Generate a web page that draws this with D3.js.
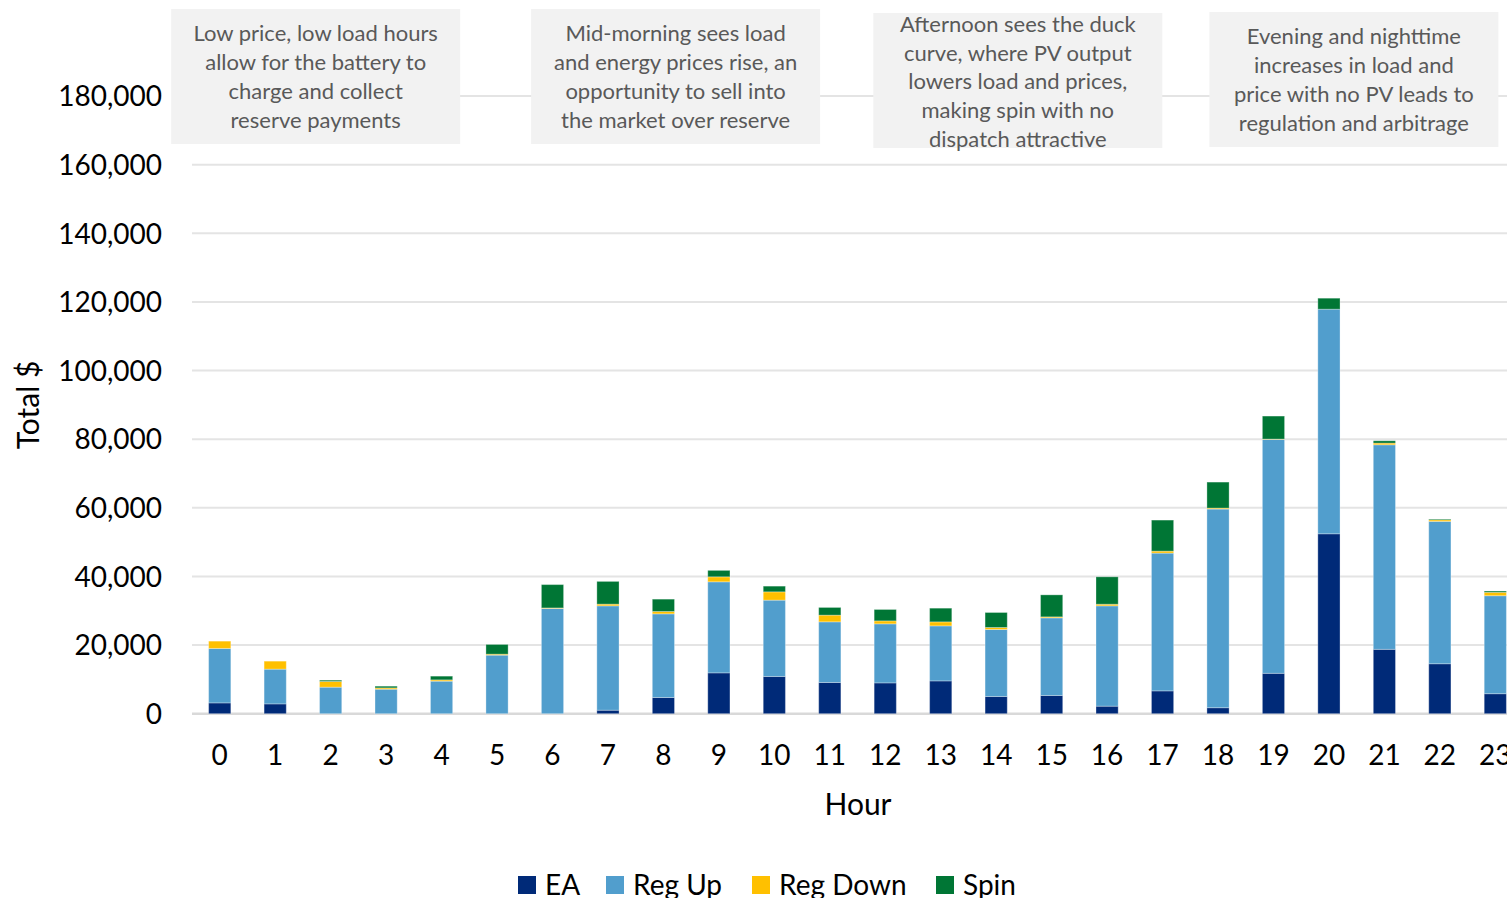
<!DOCTYPE html>
<html>
<head>
<meta charset="utf-8">
<script src="https://cdn.jsdelivr.net/npm/d3@7"></script>
<style>
  html, body { margin: 0; padding: 0; background: #fff; overflow: hidden; }
  svg { display: block; font-family: Lato, "Open Sans", sans-serif; }
</style>
</head>
<body>
<svg id="chart" width="1507" height="898"></svg>
<script>
// Hourly revenue by market product ($)
const hours = ["0","1","2","3","4","5","6","7","8","9","10","11","12","13","14","15","16","17","18","19","20","21","22","23"];
const seriesNames = ["EA", "Reg Up", "Reg Down", "Spin"];
const ea      = [3150, 2860, 0, 0, 0, 0, 0, 1020, 4720, 11900, 10850, 9100, 8980, 9560, 5010, 5310, 2190, 6650, 1750, 11770, 52430, 18760, 14560, 5830];
const regUp   = [15860, 10120, 7730, 7140, 9480, 17060, 30670, 30410, 24370, 26530, 22240, 17670, 17200, 16030, 19530, 22620, 29240, 40150, 57880, 68160, 65450, 59600, 41480, 28550];
const regDown = [2130, 2330, 1660, 380, 380, 290, 150, 500, 700, 1460, 2420, 1950, 870, 1170, 580, 290, 470, 580, 290, 100, 0, 500, 470, 990];
const spin    = [0, 0, 380, 500, 1080, 2830, 6800, 6620, 3590, 1870, 1660, 2240, 3320, 3990, 4370, 6410, 7990, 9040, 7570, 6700, 3200, 670, 200, 380];
const colors  = ["#002A78", "#519ECD", "#FFC000", "#007635"];
const yTicks  = [0, 20000, 40000, 60000, 80000, 100000, 120000, 140000, 160000, 180000];

// Call-out boxes, centred on a fractional hour position
const notes = [
  { hour: 1.73,  top: 9,  lines: ["Low price, low load hours", "allow for the battery to", "charge and collect", "reserve payments"] },
  { hour: 8.22,  top: 9,  lines: ["Mid-morning sees load", "and energy prices rise, an", "opportunity to sell into", "the market over reserve"] },
  { hour: 14.39, top: 13, lines: ["Afternoon sees the duck", "curve, where PV output", "lowers load and prices,", "making spin with no", "dispatch attractive"] },
  { hour: 20.45, top: 12, lines: ["Evening and nighttime", "increases in load and", "price with no PV leads to", "regulation and arbitrage"] }
];

const rows = hours.map((h, i) => ({ hour: h, "EA": ea[i], "Reg Up": regUp[i], "Reg Down": regDown[i], "Spin": spin[i] }));
const stacked = d3.stack().keys(seriesNames)(rows);

const svg = d3.select("#chart");
const plotLeft = 192, step = 55.46;
const x = d3.scaleBand().domain(hours).range([plotLeft, plotLeft + step * hours.length])
  .paddingInner(0.6).paddingOuter(0.3);
const y = d3.scaleLinear().domain([0, 180000]).range([713.7, 96]);

// gridlines
svg.append("g").selectAll("line").data(yTicks).join("line")
  .attr("x1", plotLeft).attr("x2", 1507)
  .attr("y1", d => y(d)).attr("y2", d => y(d))
  .attr("stroke", d => d === 0 ? "#D9D9D9" : "#E4E4E4")
  .attr("stroke-width", d => d === 0 ? 2.5 : 2);

// y axis labels
const yAxis = svg.append("g").attr("transform", `translate(162,0)`)
  .call(d3.axisLeft(y).tickValues(yTicks).tickFormat(d3.format(",")).tickSize(0).tickPadding(0));
yAxis.select(".domain").remove();
yAxis.selectAll("text").attr("font-size", 28).attr("fill", "#000").attr("font-family", "Lato, sans-serif").attr("dy", "0.35em");

// x axis labels
const xAxis = svg.append("g").attr("transform", `translate(0,748)`)
  .call(d3.axisBottom(x).tickSize(0).tickPadding(0));
xAxis.select(".domain").remove();
xAxis.selectAll("text").attr("font-size", 28).attr("fill", "#000").attr("font-family", "Lato, sans-serif").attr("dy", "0.6em");

// stacked bars
svg.append("g").selectAll("g").data(stacked).join("g")
  .attr("fill", (d, i) => colors[i])
  .selectAll("rect").data(d => d).join("rect")
  .attr("x", d => x(d.data.hour))
  .attr("width", x.bandwidth())
  .attr("y", d => y(d[1]))
  .attr("height", d => Math.max(0, y(d[0]) - y(d[1])))
  .attr("stroke", "rgba(255,255,255,0.3)")
  .attr("stroke-width", 1);

// axis titles
svg.append("text").attr("x", 858).attr("y", 804).attr("dy", "0.35em")
  .attr("text-anchor", "middle").attr("font-size", 30).attr("fill", "#000").text("Hour");
svg.append("text").attr("transform", "translate(28,405) rotate(-90)").attr("dy", "0.35em")
  .attr("text-anchor", "middle").attr("font-size", 30).attr("fill", "#000").text("Total $");

// annotation boxes
const noteW = 289, noteH = 135, lineH = 28.8;
const ng = svg.append("g").selectAll("g").data(notes).join("g")
  .attr("transform", d => `translate(${x(String(Math.floor(d.hour))) + x.bandwidth() / 2 + (d.hour % 1) * step - noteW / 2},${d.top})`);
ng.append("rect").attr("width", noteW).attr("height", noteH).attr("fill", "#F2F2F2");
ng.each(function (d) {
  const g = d3.select(this);
  const first = d.lines.length === 5 ? 11 : 24.5;
  g.selectAll("text").data(d.lines).join("text")
    .attr("x", noteW / 2)
    .attr("y", (t, i) => first + i * lineH)
    .attr("dy", "0.35em")
    .attr("text-anchor", "middle")
    .attr("font-size", 22)
    .attr("fill", "#595959")
    .text(t => t);
});

// legend
const legendX = [518, 606, 752, 936];
const lg = svg.append("g").selectAll("g").data(seriesNames).join("g")
  .attr("transform", (d, i) => `translate(${legendX[i]},876)`);
lg.append("rect").attr("width", 18).attr("height", 18).attr("fill", (d, i) => colors[i]);
lg.append("text").attr("x", 27).attr("y", 9).attr("dy", "0.35em")
  .attr("font-size", 28).attr("fill", "#000").text(d => d);
</script>
</body>
</html>
